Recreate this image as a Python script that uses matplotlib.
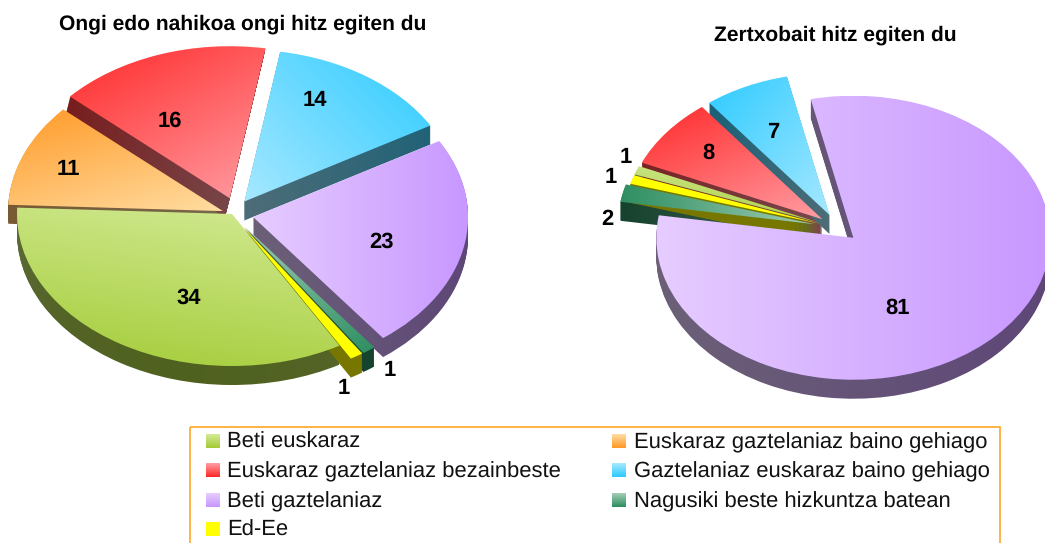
import numpy as np
import matplotlib
matplotlib.use('Agg')
import matplotlib.pyplot as plt
from matplotlib.path import Path
from matplotlib.patches import Rectangle

plt.rcParams['font.family'] = ['Liberation Sans', 'DejaVu Sans']
plt.rcParams['text.hinting'] = 'no_hinting'
plt.rcParams['text.hinting_factor'] = 1

W, H = 1045, 543

categories = ['Beti euskaraz', 'Euskaraz gaztelaniaz baino gehiago',
              'Euskaraz gaztelaniaz bezainbeste', 'Gaztelaniaz euskaraz baino gehiago',
              'Beti gaztelaniaz', 'Nagusiki beste hizkuntza batean', 'Ed-Ee']
values_left = [34, 11, 16, 14, 23, 1, 1]
values_right = [1, 0, 8, 7, 81, 2, 1]
title_left = 'Ongi edo nahikoa ongi hitz egiten du'
title_right = 'Zertxobait hitz egiten du'

# strong colour, pale colour of each slice
strong = ['#A4CC38', '#FF9A28', '#FF2A2A', '#2ECBFF', '#C898FF', '#2E8F62', '#FFFF00']
pale = ['#D2EA94', '#FFDCA0', '#FF9CA2', '#A5E8FF', '#E6CCFF', '#A0CDB5', '#FFFF00']

DEPTH = 19


def paint(ax, path, c0, c1, direction, shade=1.0):
    box = path.get_extents()
    u, v = np.meshgrid(np.linspace(0, 1, 48), np.linspace(0, 1, 48))
    t = u * direction[0] + v * direction[1]
    t = (t - t.min()) / (t.max() - t.min())
    a = np.array(matplotlib.colors.to_rgb(c0))
    b = np.array(matplotlib.colors.to_rgb(c1))
    img = (a + t[..., None] * (b - a)) * shade
    im = ax.imshow(img, origin='lower', aspect='auto', interpolation='bilinear',
                   extent=(box.x0, box.x1, box.y0, box.y1))
    im.set_clip_path(path, ax.transData)


def draw_pie(cx, cy, rx, ry, values, start, explode, dirs, lean, nudge):
    # axes placed so that the unit pie has radii rx, ry in pixels
    m = 1.35
    ax = fig.add_axes([(cx - m * rx) / W, 1 - (cy + m * ry) / H, 2 * m * rx / W, 2 * m * ry / H])
    wedges, _ = ax.pie(values, startangle=start, counterclock=False, explode=explode)
    ax.set_aspect('auto')
    paths = []
    for i, w in enumerate(wedges):
        w.set_visible(False)
        p = w.get_path()
        paths.append(Path(p.vertices + [nudge[i] / rx, 0], p.codes))
    for i, p in enumerate(paths):
        if values[i] == 0:
            continue
        for k in range(DEPTH, 0, -1):
            shifted = Path(p.vertices + [lean[i] * k / rx, -k / ry], p.codes)
            paint(ax, shifted, strong[i], pale[i], dirs[i], shade=0.47)
    for i, p in enumerate(paths):
        if values[i] == 0:
            continue
        paint(ax, p, strong[i], pale[i], dirs[i])
    ax.set_xlim(-m, m)
    ax.set_ylim(-m, m)
    ax.axis('off')


fig = plt.figure(figsize=(W / 100, H / 100), dpi=100)

draw_pie(232, 214, 215, 152, values_left, -60,
         [0, 0.05, 0.11, 0.1, 0.1, 0.1, 0.1],
         [(.3, 1), (.6, -1), (.7, -1), (-1, -.8), (-1, 0), (-.5, 1), (1, 0)],
         [0, 0, -0.25, 0, 0, 0, 0],
         [0, 1, 5.5, 0, 0, 0, 0])
draw_pie(838, 228, 197, 142, values_right, 160.1,
         [0.1, 0.1, 0.1, 0.1, 0.1, 0.12, 0.1],
         [(.3, 1), (.6, -1), (.7, -1), (1, -1), (-1, 0), (1, 0), (1, 0)],
         [0, 0, 0, 0, 0, 0, 0],
         [0, 0, 0, 0, 1, 0, 0])

# overlay in pixel units for titles, value labels and the legend box
top = fig.add_axes([0, 0, 1, 1])
top.set_xlim(0, W)
top.set_ylim(H, 0)
top.axis('off')

top.text(243, 24.5, title_left, ha='center', va='center', fontsize=15.1, fontweight='bold')
top.text(835, 35.5, title_right, ha='center', va='center', fontsize=15.2, fontweight='bold')

pos_left = [(189, 298), (68, 169), (170, 121), (315, 100), (381, 242), (390, 370), (344, 388)]
pos_right = [(626, 157), None, (708, 153), (773, 132), (898, 308), (607, 219), (611, 177)]
for vals, pos in ((values_left, pos_left), (values_right, pos_right)):
    for v, p in zip(vals, pos):
        if p is not None:
            top.text(p[0], p[1], str(v), ha='center', va='center', fontsize=16, fontweight='bold')

top.add_patch(Rectangle((190, 426.5), 810, 130, fill=False, edgecolor='#FFA726', linewidth=1.2))
rows = [441, 470, 500, 529]
for i, name in enumerate(categories):
    col = i % 2
    row = rows[i // 2]
    sx = 206 if col == 0 else 612
    tx = 227 if col == 0 else 634
    g = np.linspace(0, 1, 16)[:, None, None]
    a = np.array(matplotlib.colors.to_rgb(strong[i]))
    b = np.array(matplotlib.colors.to_rgb(pale[i]))
    top.imshow(b + g * (a - b), aspect='auto', extent=(sx, sx + 14, row + 7, row - 7))
    top.text(tx, row + 1.5, name, ha='left', va='center', fontsize=15.6, color='#111111')
top.set_xlim(0, W)
top.set_ylim(H, 0)

fig.savefig('out.png', dpi=100)
